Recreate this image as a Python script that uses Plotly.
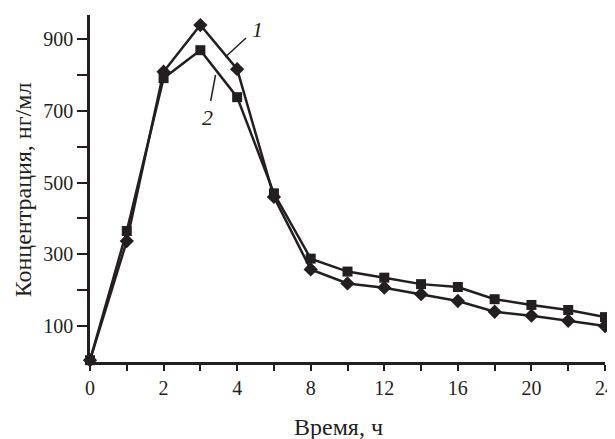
import plotly.graph_objects as go

hours = ["0", "1", "2", "3", "4", "6", "8", "10", "12", "14", "16", "18", "20", "22", "24"]
series1 = [5, 337, 809, 939, 816, 460, 258, 219, 207, 189, 170, 140, 129, 115, 100]
series2 = [5, 365, 791, 869, 738, 470, 288, 252, 235, 217, 209, 175, 159, 145, 125]
x_labels = ["0", "", "2", "", "4", "", "8", "", "12", "", "16", "", "20", "", "24"]
y_ticks = [100, 200, 300, 400, 500, 600, 700, 800, 900]
y_labels = ["100", "", "300", "", "500", "", "700", "", "900"]

INK = "#231f20"
FONT = "Liberation Serif"
FS = 20
FT = 24

# the page body has an 8px default margin: draw the figure 8px smaller
OFF = 8
W, H = 615 - OFF, 439 - OFF
L, R, T, B = 90 - OFF, 0, 15 - OFF, 439 - 362
pw, ph = W - L - R, H - T - B


def px(x):
    return (x - OFF - L) / pw


def py(y):
    return (H - B - (y - OFF)) / ph


fig = go.Figure()
fig.add_trace(go.Scatter(
    x=hours, y=series1, mode="lines+markers", name="1",
    line=dict(color=INK, width=2.5),
    marker=dict(symbol="diamond", size=11, color=INK),
    cliponaxis=False,
))
fig.add_trace(go.Scatter(
    x=hours, y=series2, mode="lines+markers", name="2",
    line=dict(color=INK, width=2.5),
    marker=dict(symbol="square", size=10, color=INK),
    cliponaxis=False,
))

fig.update_layout(
    width=W, height=H,
    margin=dict(l=L, r=R, t=T, b=B, pad=0),
    paper_bgcolor="white", plot_bgcolor="white",
    showlegend=False,
    font=dict(family=FONT, size=FS, color=INK),
    xaxis=dict(
        type="category", range=[0, 14],
        tickmode="array", tickvals=hours, ticktext=x_labels,
        showline=True, linecolor=INK, linewidth=2.5,
        ticks="outside", ticklen=6, tickwidth=2, tickcolor=INK,
        showgrid=False, zeroline=False,
        tickfont=dict(family=FONT, size=FS, color=INK),
    ),
    yaxis=dict(
        range=[0, 967],
        tickmode="array", tickvals=y_ticks, ticktext=y_labels,
        showline=True, linecolor=INK, linewidth=2.5,
        ticks="outside", ticklen=10, tickwidth=2, tickcolor=INK,
        showgrid=False, zeroline=False,
        tickfont=dict(family=FONT, size=FS, color=INK),
    ),
)

annotations = [
    dict(text="Время, ч", x=px(343), y=py(427), xref="paper", yref="paper",
         showarrow=False, xanchor="center", yanchor="middle",
         font=dict(family=FONT, size=FT, color=INK)),
    dict(text="Концентрация, нг/мл", x=px(22), y=py(190), xref="paper", yref="paper",
         showarrow=False, xanchor="center", yanchor="middle", textangle=-90,
         font=dict(family=FONT, size=FT, color=INK)),
    dict(text="<i>1</i>", x=px(261), y=py(30), xref="paper", yref="paper",
         showarrow=False, xanchor="center", yanchor="middle",
         font=dict(family=FONT, size=22, color=INK)),
    dict(text="<i>2</i>", x=px(210), y=py(117), xref="paper", yref="paper",
         showarrow=False, xanchor="center", yanchor="middle",
         font=dict(family=FONT, size=22, color=INK)),
]
fig.update_layout(annotations=annotations)

fig.add_shape(type="line", xref="paper", yref="paper",
              x0=px(249), y0=py(38), x1=px(228), y1=py(57),
              line=dict(color=INK, width=1.5))
fig.add_shape(type="line", xref="paper", yref="paper",
              x0=px(218), y0=py(75), x1=px(213), y1=py(101),
              line=dict(color=INK, width=1.5))

fig.write_html("out.html")
